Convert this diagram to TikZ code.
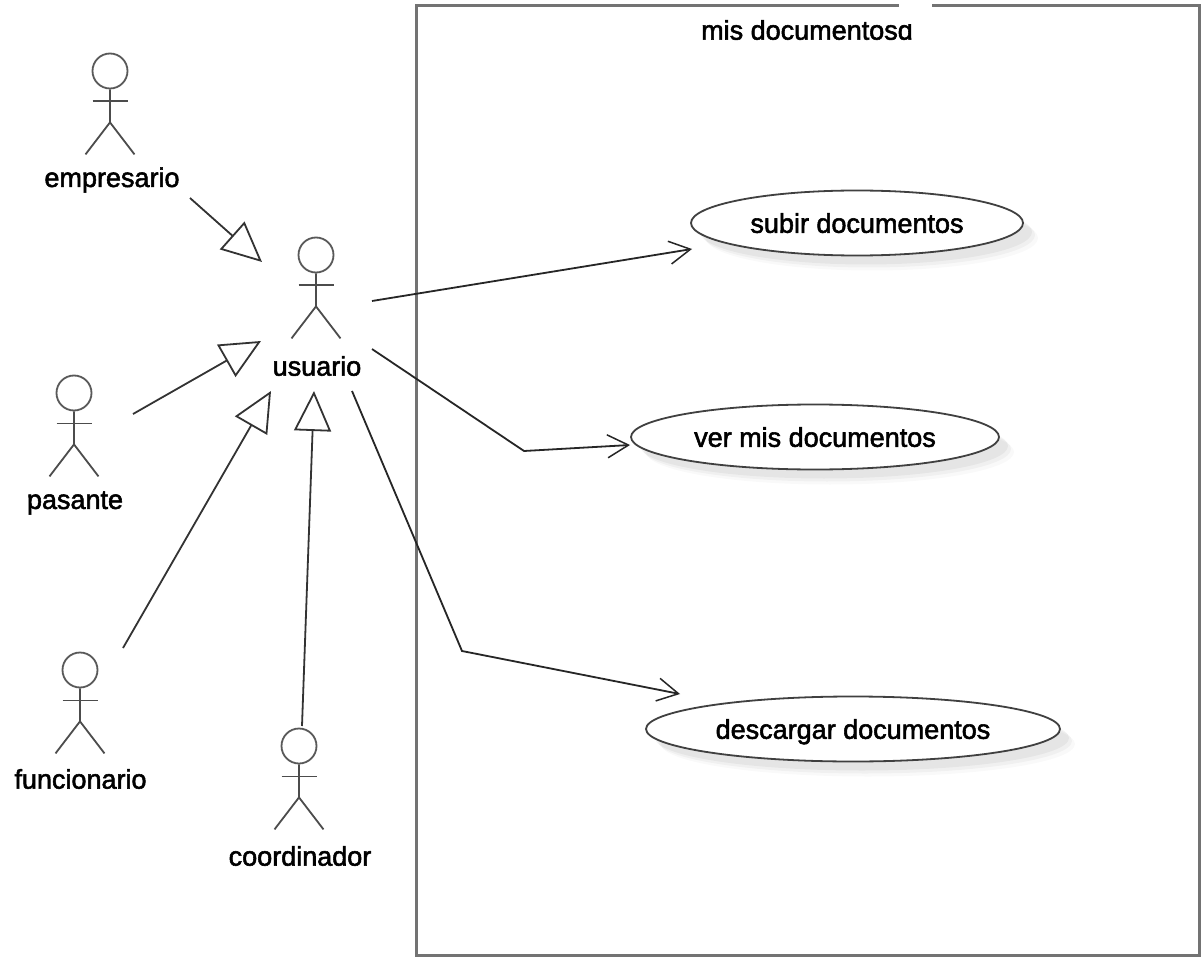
\documentclass[tikz,border=0pt]{standalone}
\usepackage{fontspec}
\setmainfont[RawFeature={embolden=2}]{Liberation Sans}
\usetikzlibrary{arrows.meta,shapes.geometric,calc}
\tikzset{
  lbl/.style={font=\fontsize{27}{30}\selectfont, inner sep=0pt, text=black},
  gen/.style={draw=black!80, line width=1.8pt, -{Triangle[open,length=40pt,width=37pt,line width=1.8pt,fill=white]}},
  dep/.style={draw=black!85, line width=1.8pt, -{Straight Barb[length=21pt,width=23pt,line width=1.5pt]}},
  usecase/.style={ellipse, draw=black!75, line width=1.8pt, fill=white, inner sep=0pt, font=\fontsize{27}{30}\selectfont,
    text depth=-1pt,
    preaction={draw=none, fill=black, fill opacity=.025, transform canvas={shift={(15pt,-15pt)}}},
    preaction={draw=none, fill=black, fill opacity=.035, transform canvas={shift={(12pt,-12pt)}}},
    preaction={draw=none, fill=black, fill opacity=.045, transform canvas={shift={(9pt,-9pt)}}}},
  headc/.style={circle, draw=black!65, line width=1.8pt, minimum size=35pt, inner sep=0pt},
  limb/.style={draw=black!70, line width=1.8pt}
}
\newcommand{\actorfig}[3]{%
  \node[headc] (#1) at (#2,#3) {};
  \draw[limb] (#1.south) -- ++(0,33) coordinate (#1b) -- ++(-24.5,32);
  \draw[limb] (#1b) -- ++(24.5,32);
  \draw[limb] ($(#1.south)+(-17.5,12)$) -- ++(35,0);
}
\begin{document}
\begin{tikzpicture}[x=1pt,y=-1pt]
\useasboundingbox (0,0) rectangle (1204,957);
\fill[white] (0,0) rectangle (1204,957);
% system frame
\node[draw=black!55, line width=3pt, minimum width=783pt, minimum height=949pt, inner sep=0pt] (frame) at (807.5,480.5) {};
\node[lbl] (title) at (807,30) {mis documentosd};
\fill[white] (899,0) rectangle (932,24);
% actors
\actorfig{aUser}{316}{255}
\actorfig{aEmp}{110}{71}
\actorfig{aPas}{74}{393}
\actorfig{aFun}{80}{670}
\actorfig{aCoo}{299}{746}
\node[lbl] (lUser) at (317,366) {usuario};
\node[lbl] (lEmp) at (112,180) {empresario};
\node[lbl] (lPas) at (75,503) {pasante};
\node[lbl] (lFun) at (80.5,779) {funcionario};
\node[lbl] (lCoo) at (300,856) {coordinador};
% use cases
\node[usecase, minimum width=332pt, minimum height=65pt] (uc1) at (857,223) {subir documentos};
\node[usecase, minimum width=368pt, minimum height=65pt] (uc2) at (815,437) {ver mis documentos};
\node[usecase, minimum width=414pt, minimum height=65pt] (uc3) at (853,729) {descargar documentos};
% connector end points
\coordinate (g1s) at (190,198); \coordinate (g1e) at (262,262);
\coordinate (g2s) at (133,414); \coordinate (g2e) at (261,341);
\coordinate (g3s) at (123,648); \coordinate (g3e) at (271,391);
\coordinate (g4s) at (302,726); \coordinate (g4e) at (314,391);
\coordinate (d1s) at (372,301); \coordinate (d1e) at (692,249);
\coordinate (d2s) at (372,349); \coordinate (d2m) at (524,451); \coordinate (d2e) at (630,445);
\coordinate (d3s) at (352,391); \coordinate (d3m) at (462,651); \coordinate (d3e) at (680,694);
\draw[gen] (g1s) -- (g1e);
\draw[gen] (g2s) -- (g2e);
\draw[gen] (g3s) -- (g3e);
\draw[gen] (g4s) -- (g4e);
\draw[dep] (d1s) -- (d1e);
\draw[dep] (d2s) -- (d2m) -- (d2e);
\draw[dep] (d3s) -- (d3m) -- (d3e);
\end{tikzpicture}
\end{document}
